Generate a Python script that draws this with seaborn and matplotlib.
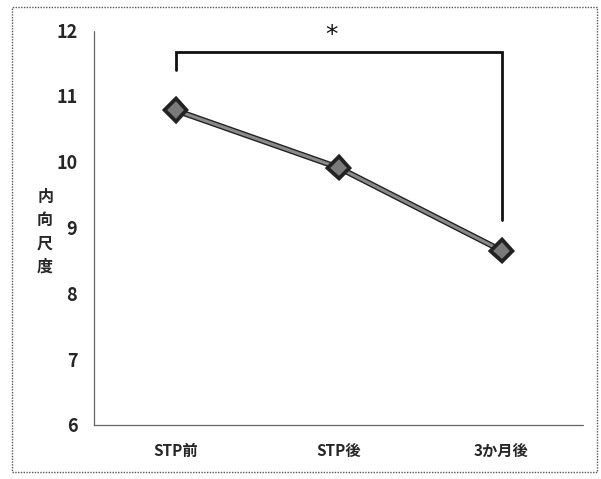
import matplotlib
matplotlib.use("Agg")
import matplotlib.pyplot as plt
import matplotlib.patheffects as pe
import seaborn as sns
import pandas as pd

categories = ["STP前", "STP後", "3か月後"]
values = [10.78, 9.91, 8.65]
yticks = [6, 7, 8, 9, 10, 11, 12]
ylabel = "内\n向\n尺\n度"
bracket_top = 11.67
bracket_left_bottom = 11.40
bracket_right_bottom = 9.12
sig_mark = "*"

sns.set_theme(style="white")
plt.rcParams["font.family"] = ["Noto Sans CJK JP", "DejaVu Sans"]

df = pd.DataFrame({"cat": categories, "val": values})

fig = plt.figure(figsize=(6.01, 4.79), dpi=100)
ax = fig.add_axes([94/601, 1-425/479, (583-94)/601, (425-30)/479])

sns.lineplot(data=df, x="cat", y="val", ax=ax, color="#8a8a8a", linewidth=2.2,
             marker="D", markersize=10, markerfacecolor="#7a7a7a",
             markeredgecolor="#222222", markeredgewidth=1.2, sort=False,
             path_effects=[pe.Stroke(linewidth=4.2, foreground="#222222"), pe.Normal()])

ax.set_xlim(-0.5, 2.5)
ax.set_ylim(6, 12)
ax.set_yticks(yticks)
ax.set_yticklabels([str(t) for t in yticks], fontsize=13, fontweight="bold")
ax.set_xticks(range(len(categories)))
ax.set_xticklabels(categories, fontsize=11, fontweight="bold")
ax.tick_params(axis="x", length=0, pad=13)
ax.tick_params(axis="y", length=3, width=0.6, color="#777777", pad=12, direction="in")
ax.set_xlabel("")
ax.set_ylabel(ylabel, rotation=0, fontsize=11.5, fontweight="bold", linespacing=1.55,
              va="center", ha="center")
ax.yaxis.set_label_coords(-0.10, 0.49)

for s in ["top", "right"]:
    ax.spines[s].set_visible(False)
for s in ["left", "bottom"]:
    ax.spines[s].set_color("#666666")
    ax.spines[s].set_linewidth(0.9)
    ax.spines[s].set_linestyle((0, (1, 1)))

# significance bracket
ax.plot([0, 0, 2, 2], [bracket_left_bottom, bracket_top, bracket_top, bracket_right_bottom],
        color="#111111", linewidth=2, clip_on=False, solid_joinstyle="miter")
ax.text(0.96, 11.93, sig_mark, ha="center", va="center", fontsize=18, color="#111111",
        family="DejaVu Sans")

# outer dotted frame
frame = plt.Rectangle((12/601, 1-472/479), (597-12)/601, (472-7)/479, transform=fig.transFigure,
                      fill=False, edgecolor="#555555", linewidth=1, linestyle=(0, (1, 1)))
fig.patches.append(frame)

fig.savefig("out.png", dpi=100)
